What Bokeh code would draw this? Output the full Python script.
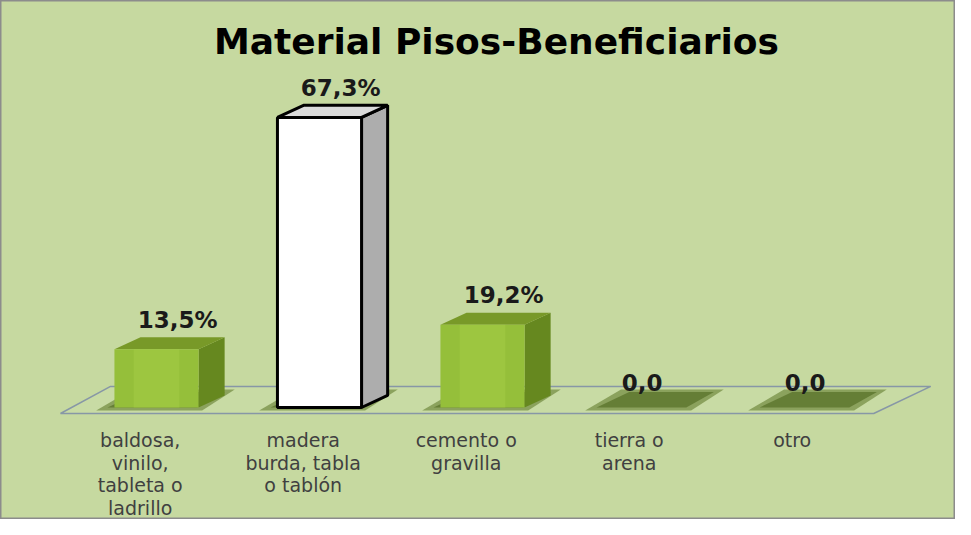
from bokeh.plotting import figure
from bokeh.models import Range1d, ColumnDataSource, Label
from bokeh.core.properties import value
from bokeh.embed import file_html
from bokeh.resources import INLINE

# ---- data ----
categories = ["baldosa,\nvinilo,\ntableta o\nladrillo",
              "madera\nburda, tabla\no tablón",
              "cemento o\ngravilla",
              "tierra o\narena",
              "otro"]
values = [13.5, 67.3, 19.2, 0.0, 0.0]
title_text = "Material Pisos-Beneficiarios"

# ---- style ----
BG = "#c6d9a0"
FRONT = ["#95bf3a", "#ffffff", "#95bf3a", "#95bf3a", "#95bf3a"]
SIDE = ["#66881f", "#adadad", "#66881f", "#66881f", "#66881f"]
TOP = ["#789928", "#dadada", "#789928", "#789928", "#789928"]
EDGE = [None, "black", None, None, None]

W, H = 955, 519
PX_PER_UNIT_X = 163.0
PX_PER_PCT = 4.31
X0_PX = 156.0            # pixel of category 0 centre
BASE_FROM_BOTTOM = 112.0

p = figure(width=W, height=H, output_backend="svg", toolbar_location=None,
           x_range=Range1d(-X0_PX / PX_PER_UNIT_X, (W - X0_PX) / PX_PER_UNIT_X),
           y_range=Range1d(-BASE_FROM_BOTTOM / PX_PER_PCT,
                           (H - BASE_FROM_BOTTOM) / PX_PER_PCT),
           min_border=0, background_fill_color=BG, border_fill_color=BG,
           outline_line_color="#8c8c8c", outline_line_width=2)
p.axis.visible = False
p.grid.visible = False

p.add_layout(Label(x=496, y=478, x_units="screen", y_units="screen", text=title_text,
                   text_align="center", text_baseline="alphabetic",
                   text_font="DejaVu Sans", text_font_style="bold",
                   text_font_size="36px", text_color="black"))

n = len(values)
bw = 0.258     # half bar width (category units)
dx = 0.16      # depth offset x
dy = 2.8       # depth offset y (percent units)

# floor parallelogram
fl_front = -1.4
fl_back = 4.9
p.patch([-0.589, 4.40, 4.75, -0.282], [fl_front, fl_front, fl_back, fl_back],
        fill_color="#cadca6", fill_alpha=0.6, line_color="#8797a6", line_width=1.5)

# shadows on the floor
sx, sy = [], []
for i in range(n):
    sx.append([i - 0.37, i + 0.28, i + 0.48, i - 0.15])
    sy.append([-0.7, -0.7, 4.2, 4.2])
p.patches(sx, sy, fill_color="#4d6a16", fill_alpha=0.5, line_color=None)
sx2, sy2 = [], []
for i in range(n):
    sx2.append([i - 0.30, i + 0.25, i + 0.42, i - 0.10])
    sy2.append([0.0, 0.0, 3.6, 3.6])
p.patches(sx2, sy2, fill_color="#3f5a10", fill_alpha=0.5, line_color=None)

# bars (3-D): side, top, front
side_x, side_y, side_c, side_l = [], [], [], []
top_x, top_y, top_c, top_l = [], [], [], []
fx, ftop, fcol, fline = [], [], [], []
for i, v in enumerate(values):
    if v <= 0:
        continue
    side_x.append([i + bw, i + bw + dx, i + bw + dx, i + bw])
    side_y.append([0, dy, v + dy, v])
    side_c.append(SIDE[i]); side_l.append(EDGE[i])
    top_x.append([i - bw, i - bw + dx, i + bw + dx, i + bw])
    top_y.append([v, v + dy, v + dy, v])
    top_c.append(TOP[i]); top_l.append(EDGE[i])
    fx.append(i); ftop.append(v); fcol.append(FRONT[i]); fline.append(EDGE[i])

p.patches(xs="xs", ys="ys", fill_color="c", line_color="l", line_width=3,
          source=ColumnDataSource(dict(xs=side_x, ys=side_y, c=side_c, l=side_l)))
p.patches(xs="xs", ys="ys", fill_color="c", line_color="l", line_width=3,
          source=ColumnDataSource(dict(xs=top_x, ys=top_y, c=top_c, l=top_l)))
p.vbar(x="x", top="top", bottom=0, width=2 * bw, fill_color="c", line_color="l",
       line_width=3, source=ColumnDataSource(dict(x=fx, top=ftop, c=fcol, l=fline)))
# subtle lighter strip on green fronts
gx, gt = [], []
for i, v in enumerate(values):
    if v > 0 and FRONT[i] != "#ffffff":
        gx.append(i + 0.0); gt.append(v)
p.vbar(x=gx, top=gt, bottom=0, width=0.28, fill_color="#a4cb44", fill_alpha=0.6,
       line_color=None)

# value labels
lab_x, lab_y, lab_t = [], [], []
for i, v in enumerate(values):
    lab_x.append(i + (0.13 if v > 0 else -0.02))
    lab_y.append(v + dy + (4.0 if v > 0 else 3.0))
    txt = f"{v:.1f}".replace(".", ",")
    lab_t.append(txt + "%" if v > 0 else txt)
p.text(x=lab_x, y=lab_y, text=lab_t, text_align="center", text_baseline="middle",
       text_font=value("DejaVu Sans"), text_font_style="bold",
       text_font_size="23px", text_color="#1a1a1a")

# category labels
p.text(x=[i - 0.1 for i in range(n)], y=[-5.1] * n, text=categories,
       text_align="center", text_baseline="top", text_font=value("DejaVu Sans"),
       text_font_size="19px", text_color="#404040", text_line_height=1.02)

open("out.html", "w").write(file_html(p, INLINE))
